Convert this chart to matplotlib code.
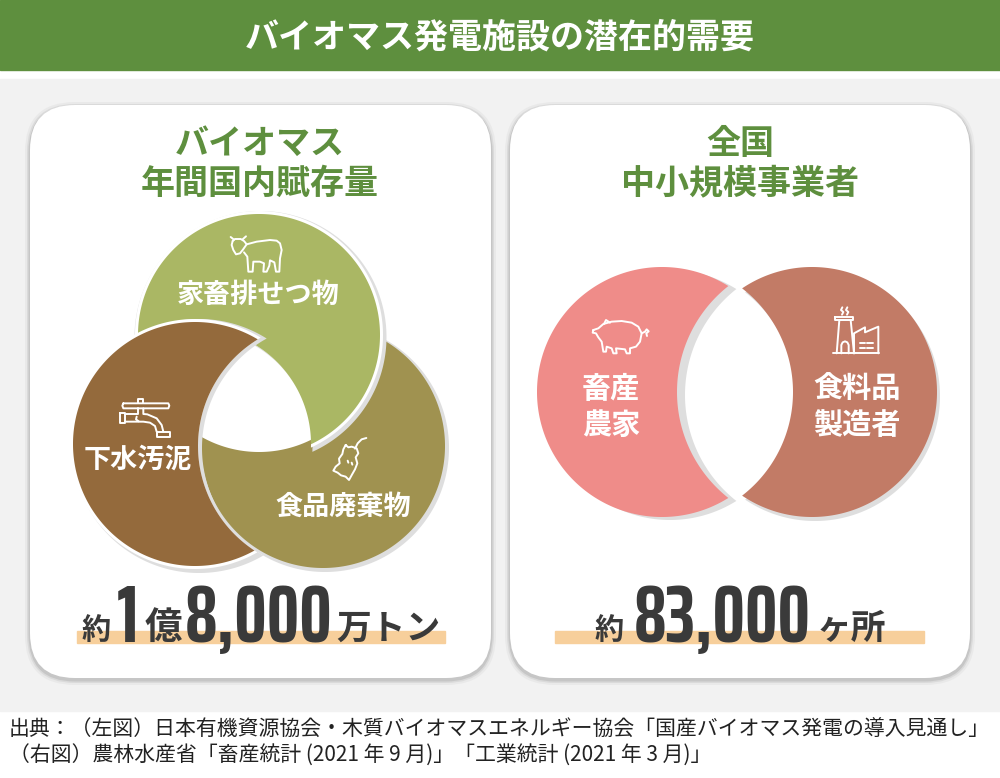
import numpy as np
import matplotlib
matplotlib.use('Agg')
import matplotlib.pyplot as plt
from matplotlib.patches import FancyBboxPatch, Rectangle, PathPatch
from matplotlib.path import Path
from matplotlib.textpath import TextPath
from matplotlib import font_manager as fm
from matplotlib.font_manager import FontProperties

# ---------------- data ----------------
title = 'バイオマス発電施設の潜在的需要'
left_title = ['バイオマス', '年間国内賦存量']
right_title = ['全国', '中小規模事業者']
left_categories = ['家畜排せつ物', '下水汚泥', '食品廃棄物']
left_colors = ['#aab764', '#946a3c', '#a09250']
right_categories = ['畜産\n農家', '食料品\n製造者']
right_colors = ['#ef8c89', '#c27b66']
left_total_parts = ['約', '1', '億', '8,000', '万トン']
right_total_parts = ['約', '83,000', 'ヶ所']
sources = ['出典：（左図）日本有機資源協会・木質バイオマスエネルギー協会「国産バイオマス発電の導入見通し」',
           '（右図）農林水産省「畜産統計 (2021 年 9 月)」「工業統計 (2021 年 3 月)」']

# ---------------- fonts ----------------
CJK = ['Noto Sans CJK JP', 'DejaVu Sans']
WMAP = {'bold': 700, 'heavy': 800, 'black': 900, 'extra bold': 800, 'demibold': 600, 'semibold': 600}


def weight_num(w):
    if isinstance(w, (int, float)):
        return w
    return WMAP.get(str(w).lower(), 400)


def ink_width(prop, s):
    return TextPath((0, 0), s, size=1, prop=prop).get_extents().width


def pick_number_font():
    best = None
    for f in fm.fontManager.ttflist:
        name = f.fname.replace('\\', '/').split('/')[-1].lower()
        fam = str(f.name).lower()
        narrow = ('condensed' in name or 'narrow' in name or 'condensed' in fam or 'narrow' in fam or
                  str(f.stretch) in ('condensed', 'extra-condensed', 'ultra-condensed', 'semi-condensed'))
        wn = weight_num(f.weight)
        if not narrow or wn < 600 or 'italic' in name or 'oblique' in name:
            continue
        if 'mono' in name or 'mono' in fam or 'serif' in fam and 'sans' not in fam:
            continue
        try:
            prop = FontProperties(fname=f.fname)
            ext = TextPath((0, 0), '0', size=1, prop=prop).get_extents()
            w, h = ext.width, ext.height
            # reject monospaced designs (narrow 'i' as wide as 'm')
            if ink_width(prop, 'iiii') > 0.6 * ink_width(prop, 'mmmm'):
                continue
        except Exception:
            continue
        if h <= 0:
            continue
        score = abs(w / h - 0.50) + 0.0004 * abs(wn - 700)
        if best is None or score < best[0]:
            best = (score, prop, h)
    if best is None:
        prop = FontProperties(family='Roboto', weight='bold')
        h = TextPath((0, 0), '0', size=1, prop=prop).get_extents().height
        return prop, h, True
    return best[1], best[2], False


NUMPROP, ZERO_H, fallback = pick_number_font()
NUM_FS = 57 / ZERO_H * 72 / 100          # digit height ~57 px
if fallback:
    NUM_FS *= 0.82

GREEN = '#5e8f3e'
DARK = '#3a3a3a'
BG = '#f2f2f2'
SHADOW = '#dedede'

fig = plt.figure(figsize=(10, 7.78), dpi=100)
fig.patch.set_facecolor('white')
ax = fig.add_axes([0, 0, 1, 1])
ax.set_xlim(0, 1000)
ax.set_ylim(778, 0)
ax.axis('off')

# background bands
ax.add_patch(Rectangle((0, 0), 1000, 70, color=GREEN, zorder=1))
ax.add_patch(Rectangle((0, 79), 1000, 632, color=BG, zorder=1))
ax.text(500, 37, title, ha='center', va='center', color='white', fontsize=24.5,
        fontweight='bold', family=CJK, zorder=5)

# panels
for (px, py, pw, ph) in [(30, 105, 461, 573), (510, 105, 460, 573)]:
    for grow, alpha in [(5, 0.10), (3, 0.18), (1.5, 0.30)]:
        ax.add_patch(FancyBboxPatch((px - grow, py - grow + 2), pw + 2 * grow, ph + 2 * grow,
                                    boxstyle='round,pad=0,rounding_size=%g' % (45 + grow),
                                    facecolor='#9a9a9a', edgecolor='none', alpha=alpha, zorder=2))
    ax.add_patch(FancyBboxPatch((px, py), pw, ph, boxstyle='round,pad=0,rounding_size=45',
                                facecolor='white', edgecolor='none', zorder=3))


# ---------------- crescent helper (circle A minus circle B, exact geometry) ----------------
def crescent(c, r, cut_c, cut_r, color, z, off=(0, 0), n=400):
    cx, cy = c[0] + off[0], c[1] + off[1]
    bx, by = cut_c[0] + off[0], cut_c[1] + off[1]
    d = np.hypot(bx - cx, by - cy)
    t = np.linspace(0, 2 * np.pi, n)
    if d >= r + cut_r:
        verts = np.column_stack([cx + r * np.cos(t), cy + r * np.sin(t)])
        codes = [Path.MOVETO] + [Path.LINETO] * (n - 2) + [Path.CLOSEPOLY]
    elif d + r <= cut_r:
        return
    elif d + cut_r <= r:
        a = np.column_stack([cx + r * np.cos(t), cy + r * np.sin(t)])
        b = np.column_stack([bx + cut_r * np.cos(t[::-1]), by + cut_r * np.sin(t[::-1])])
        verts = np.vstack([a, b])
        codes = ([Path.MOVETO] + [Path.LINETO] * (n - 2) + [Path.CLOSEPOLY]) * 2
    else:
        phi = np.arctan2(by - cy, bx - cx)
        alpha = np.arccos(np.clip((d * d + r * r - cut_r * cut_r) / (2 * d * r), -1, 1))
        ta = np.linspace(phi + alpha, phi + 2 * np.pi - alpha, n)
        arcA = np.column_stack([cx + r * np.cos(ta), cy + r * np.sin(ta)])
        p1, p2 = arcA[0], arcA[-1]
        b1 = np.arctan2(p1[1] - by, p1[0] - bx)
        b2 = np.arctan2(p2[1] - by, p2[0] - bx)
        psi = np.arctan2(cy - by, cx - bx)
        dccw = (b1 - b2) % (2 * np.pi)
        dcw = dccw - 2 * np.pi
        delta = dccw if np.cos(b2 + dccw / 2 - psi) > np.cos(b2 + dcw / 2 - psi) else dcw
        tb = b2 + np.linspace(0, delta, n)
        arcB = np.column_stack([bx + cut_r * np.cos(tb), by + cut_r * np.sin(tb)])
        verts = np.vstack([arcA, arcB[1:], arcA[:1]])
        codes = [Path.MOVETO] + [Path.LINETO] * (len(verts) - 2) + [Path.CLOSEPOLY]
    ax.add_patch(PathPatch(Path(verts, codes), facecolor=color, edgecolor='none', zorder=z))


# ---------------- left diagram ----------------
cG, rG = (259, 335), 121
cB, rB = (195, 444), 122
cO, rO = (323, 446), 122
# olive (bottom layer)
crescent(cO, rO + 2, cG, 117, SHADOW, 10, off=(2, 2))
crescent(cO, rO, cG, 117, left_colors[2], 11)
# green (middle layer)
crescent(cG, rG + 5, cB, 116, SHADOW, 12, off=(1.5, 2))
crescent(cG, rG + 3, cB, 116, 'white', 13)
crescent(cG, rG, cB, 116, left_colors[0], 14)
# brown (top layer)
crescent(cB, rB + 5, cO, rO + 3, SHADOW, 15, off=(4, 2))
crescent(cB, rB + 3, cO, rO + 3, 'white', 16)
crescent(cB, rB, cO, rO + 3, left_colors[1], 17)

label_pos_left = [(258, 295), (138, 460), (343, 507)]
for name, (x, y) in zip(left_categories, label_pos_left):
    ax.text(x, y, name, ha='center', va='center', color='white', fontsize=19.5,
            fontweight='bold', family=CJK, zorder=30)

# ---------------- right diagram ----------------
cP, cR, RR = (662, 392), (812, 392), 125
crescent(cP, RR, cR, 135, SHADOW, 10, off=(8, 3))
crescent(cP, RR, cR, 135, right_colors[0], 11)
crescent(cR, RR, cP, 131, SHADOW, 12, off=(3, 4))
crescent(cR, RR, cP, 131, right_colors[1], 13)

label_pos_right = [(611, 407), (857, 407)]
for name, (x, y) in zip(right_categories, label_pos_right):
    ax.text(x, y, name, ha='center', va='center', color='white', fontsize=21,
            fontweight='bold', family=CJK, linespacing=1.25, zorder=30)


# ---------------- icons (white line art) ----------------
def draw_icon(lines, ox, oy, s=1 / 3, lw=1.4):
    for pts in lines:
        pts = np.array(pts, float)
        ax.plot(ox + pts[:, 0] * s, oy + pts[:, 1] * s, color='white', lw=lw,
                solid_capstyle='round', solid_joinstyle='round', zorder=31)


cow = [
    [(38, 48), (35, 60), (40, 75), (48, 88), (60, 85), (68, 75), (80, 58), (110, 50), (150, 45),
     (170, 47), (180, 55), (185, 75), (180, 100), (178, 140), (168, 140), (163, 112), (150, 106),
     (148, 122), (140, 140), (130, 140), (132, 115), (120, 110), (100, 110), (98, 140), (85, 140),
     (82, 95), (72, 82)],
    [(38, 48), (45, 42), (62, 42), (72, 48), (80, 58)],
    [(32, 36), (42, 44)], [(78, 34), (68, 43)],
]
draw_icon(cow, 220, 225)

faucet = [
    [(40, 40), (175, 40), (178, 47), (175, 55), (40, 55), (37, 47), (40, 40)],
    [(84, 40), (84, 28), (100, 28), (100, 40)],
    [(84, 55), (84, 72), (45, 72)],
    [(45, 95), (100, 95), (120, 98), (135, 108), (140, 125)],
    [(100, 55), (100, 72), (112, 73), (140, 85), (155, 105), (160, 125)],
    [(30, 70), (45, 70), (45, 100), (30, 100), (30, 70)],
    [(140, 125), (180, 125), (180, 140), (140, 140), (140, 125)],
    [(80, 80), (78, 88), (86, 94)],
]
draw_icon(faucet, 110, 390)

apple = [
    [(62, 45), (70, 52), (80, 50), (95, 55), (100, 70), (92, 82), (97, 100), (90, 118), (82, 132),
     (72, 150), (62, 140), (48, 136), (38, 128), (25, 122), (32, 110), (44, 100), (42, 86),
     (52, 72), (55, 58), (62, 45)],
    [(90, 56), (98, 40), (110, 28), (124, 24)],
    [(68, 92), (70, 98)], [(80, 98), (82, 104)],
]
draw_icon(apple, 325, 430)

pig = [
    [(40, 90), (38, 98), (48, 100), (55, 112), (65, 125), (70, 155), (78, 155), (80, 140), (95, 145),
     (100, 160), (110, 160), (108, 145), (135, 148), (140, 160), (150, 160), (150, 145), (168, 140),
     (180, 125), (185, 100), (175, 80), (155, 68), (125, 63), (95, 65), (70, 72), (55, 85), (40, 90)],
    [(72, 72), (78, 60), (90, 68)],
    [(185, 100), (195, 95), (200, 88), (206, 94), (199, 100), (201, 108)],
]
draw_icon(pig, 580, 300)

factory = [
    [(770, 160), (778, 60), (812, 60), (822, 160)],
    [(765, 50), (818, 50), (818, 60), (765, 60), (765, 50)],
    [(784, 160), (784, 135), (788, 127), (795, 124), (802, 127), (806, 135), (806, 160)],
    [(787, 22), (783, 30), (790, 36), (786, 44)], [(802, 22), (798, 30), (805, 36), (801, 44)],
    [(822, 160), (822, 100), (855, 82), (855, 97), (895, 80), (895, 160)],
    [(760, 160), (897, 160)],
    [(840, 130), (855, 130)], [(862, 130), (880, 130)],
    [(840, 145), (855, 145)], [(862, 145), (880, 145)],
]
draw_icon(factory, 580, 300)

# ---------------- panel titles ----------------
for lines, cx in [(left_title, 260), (right_title, 740)]:
    for t, y in zip(lines, [143, 183]):
        ax.text(cx, y, t, ha='center', va='center', color=GREEN, fontsize=24.5,
                fontweight='bold', family=CJK, zorder=30)

# ---------------- totals ----------------
ax.add_patch(Rectangle((77, 631), 368, 12, color='#f7cf9b', zorder=20))
ax.add_patch(Rectangle((555, 631), 369, 12, color='#f7cf9b', zorder=20))

fig.canvas.draw()
renderer = fig.canvas.get_renderer()


def total_line(parts, cjk_sizes, gaps, center, max_w, num_fs):
    for attempt in range(3):
        texts = []
        for t in parts:
            if t[0].isdigit():
                tx = ax.text(0, 642, t, ha='left', va='baseline', color=DARK, fontproperties=NUMPROP,
                             fontsize=num_fs, zorder=30)
            else:
                tx = ax.text(0, 639, t, ha='left', va='baseline', color=DARK,
                             fontsize=cjk_sizes[t], fontweight='bold', family=CJK, zorder=30)
            texts.append(tx)
        widths = [tx.get_window_extent(renderer=renderer).width for tx in texts]
        total = sum(widths) + sum(gaps)
        if total > max_w and attempt < 2:
            for tx in texts:
                tx.remove()
            num_w = sum(w for w, t in zip(widths, parts) if t[0].isdigit())
            other = total - num_w
            num_fs = num_fs * max(0.5, (max_w - other) / num_w)
            continue
        x = center - total / 2
        for tx, w, g in zip(texts, widths, gaps + [0]):
            tx.set_x(x)
            x += w + g
        break


total_line(left_total_parts, {'約': 21, '億': 27, '万トン': 25}, [6, 6, 3, 3], 261, 365, NUM_FS)
total_line(right_total_parts, {'約': 21, 'ヶ所': 25}, [10, 6], 740, 305, NUM_FS)

# ---------------- sources ----------------
for t, y in zip(sources, [730, 756]):
    ax.text(9, y, t, ha='left', va='center', color='#222222', fontsize=15.0, family=CJK, zorder=30)

fig.savefig('out.png', dpi=100, facecolor='white')
